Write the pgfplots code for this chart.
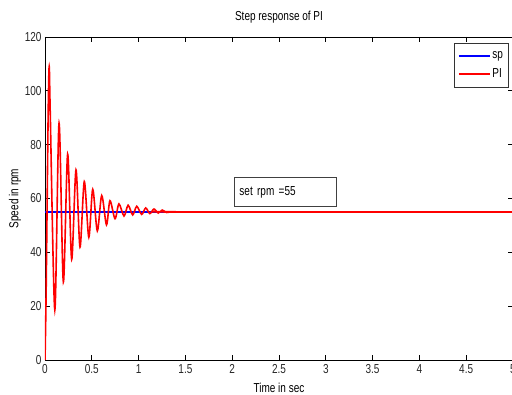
\documentclass[border=0pt]{standalone}
\usepackage{pgfplots}
\pgfplotsset{compat=1.18}
\usepackage{fontspec}
\setmainfont{Liberation Sans}[FakeStretch=0.77]
\begin{document}
\begin{tikzpicture}[font=\fontsize{13}{15}\selectfont]
\begin{axis}[
 name=ax,
 scale only axis,
 width=468pt, height=323pt,
 xmin=0, xmax=5, ymin=0, ymax=120,
 xtick={0,0.5,...,5}, ytick={0,20,...,120},
 /pgf/number format/assume math mode=true,
 /pgf/number format/fixed,
 tick label style={font=\fontsize{13}{15}\selectfont, color=black!85},
 xticklabel style={yshift=-1pt},
 major tick length=5pt,
 tick style={black, line width=0.8pt},
 axis line style={line width=0.9pt},
 title={Step response of PI},
 title style={at={(0.5,1)}, anchor=base, yshift=10pt, font=\fontsize{13}{15}\selectfont},
 xlabel={Time in sec},
 xlabel style={at={(0.5,0)}, anchor=base, yshift=-32pt, font=\fontsize{13}{15}\selectfont},
 ylabel={Speed in rpm},
 ylabel style={at={(0,0.5)}, anchor=base, yshift=26.7pt, font=\fontsize{13}{15}\selectfont},
 legend style={at={(1,1)}, anchor=north east, xshift=-4pt, yshift=-6pt,
   draw=black!80, line width=0.9pt, inner xsep=4pt, inner ysep=7pt,
   font=\fontsize{13}{15}\selectfont, row sep=5pt,
   nodes={inner sep=1.5pt}},
 legend cell align=left,
]
\addlegendimage{blue, line width=2pt, legend image code/.code={\draw[blue, line width=2pt] (0pt,0pt) -- (31pt,0pt);}}
\addlegendentry{sp}
\addlegendimage{red, line width=2pt, legend image code/.code={\draw[red, line width=2pt] (0pt,0pt) -- (31pt,0pt);}}
\addlegendentry{PI}
\addplot[blue, line width=1.6pt, forget plot] coordinates {(0,55) (5,55)};
\addplot[red, line width=1.6pt, smooth, tension=0.5, forget plot] coordinates {
(0,0)
(0.012,25)
(0.034,92)
(0.045,109)
(0.056,92)
(0.105,18.6)
(0.15,88)
(0.196,29)
(0.242,76.5)
(0.285,37.4)
(0.331,70.6)
(0.374,42)
(0.42,66.3)
(0.468,45.6)
(0.51,63.4)
(0.559,48)
(0.606,61.1)
(0.657,50.2)
(0.694,59.2)
(0.748,52.5)
(0.79,58)
(0.844,53.5)
(0.888,57.5)
(0.937,53.9)
(0.98,57.1)
(1.033,54.1)
(1.076,56.5)
(1.12,54.4)
(1.164,56.1)
(1.21,54.6)
(1.252,55.7)
(1.3,54.8)
(1.34,55.1)
(1.36,55)
(5,55)
};
\node[draw=black!75, line width=0.8pt, fill=white, anchor=west, minimum height=29pt,
  inner xsep=5pt, text width=92pt, align=left] at (axis cs:2.02,62.4) {set rpm =55};
\end{axis}
\pgfresetboundingbox
\path[use as bounding box] ([xshift=-45pt,yshift=-34pt]ax.south west) rectangle ([xshift=-1pt,yshift=37pt]ax.north east);
\end{tikzpicture}
\end{document}
